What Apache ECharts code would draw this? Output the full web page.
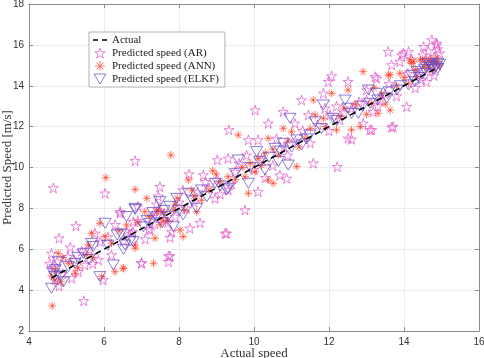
<!DOCTYPE html>
<html>
<head>
<meta charset="utf-8">
<script src="https://cdn.jsdelivr.net/npm/echarts@6/dist/echarts.min.js"></script>
<style>
  html, body { margin: 0; padding: 0; background: #fff; }
  #chart { width: 484px; height: 358px; }
</style>
</head>
<body>
<div id="chart"></div>
<script>
// values
const actualLine = [[4.6, 4.6], [14.9, 14.9]];

const arPoints = [
  [4.65, 9.0], [5.46, 3.48], [4.6, 5.8], [4.8, 6.54], [5.04, 5.64], [5.31, 4.9], [5.49, 5.23], [5.25, 7.14],
  [5.9, 6.37], [6.2, 5.72], [6.43, 7.76], [7.0, 5.31], [5.98, 4.5], [5.14, 4.59], [5.76, 6.78], [6.77, 6.86],
  [5.85, 5.48], [4.62, 5.1], [4.7, 4.5], [4.75, 5.4], [4.9, 4.8], [5.2, 5.5], [5.6, 6.0], [6.03, 8.74],
  [6.43, 7.84], [6.6, 6.9], [6.52, 6.4], [7.0, 5.34], [7.72, 5.67], [7.72, 5.39], [6.83, 10.33], [6.9, 7.4],
  [7.2, 7.0], [7.3, 7.6], [9.31, 10.45], [9.02, 10.37], [8.27, 9.68], [8.65, 9.63], [9.27, 6.78], [7.76, 5.67],
  [8.56, 7.3], [8.29, 7.03], [7.76, 6.58], [7.8, 6.86], [7.23, 6.94], [7.49, 9.06], [8.96, 8.49], [9.31, 8.9],
  [6.74, 6.78], [6.78, 7.35], [7.5, 7.9], [7.7, 7.3], [8.0, 8.3], [8.2, 8.0], [8.5, 8.8], [8.8, 9.0],
  [9.0, 9.4], [9.5, 9.8], [9.23, 6.78], [9.76, 7.92], [7.4, 8.2], [7.6, 7.5], [10.03, 12.81], [10.78, 12.73],
  [10.38, 12.16], [9.33, 11.84], [9.85, 11.35], [10.11, 11.35], [11.58, 10.21], [11.27, 13.3], [11.09, 12.16], [10.87, 9.47],
  [10.11, 8.82], [10.69, 9.63], [11.89, 12.9], [11.45, 12.57], [12.22, 10.04], [10.2, 10.4], [10.5, 10.1], [10.8, 11.0],
  [11.1, 11.3], [11.5, 11.2], [10.0, 9.9], [9.8, 10.6], [12.51, 11.43], [12.91, 12.16], [13.14, 11.84], [13.58, 15.67],
  [13.94, 15.5], [14.12, 15.67], [13.67, 15.02], [14.52, 15.91], [12.07, 14.48], [11.98, 14.2], [12.51, 14.2], [11.85, 13.63],
  [13.23, 14.44], [13.0, 13.79], [14.07, 12.98], [13.67, 11.97], [12.6, 11.38], [13.09, 11.84], [12.03, 12.57], [12.29, 12.33],
  [13.36, 13.3], [13.18, 12.73], [14.74, 16.24], [14.87, 15.99], [14.87, 16.08], [13.98, 15.59], [13.89, 15.18], [13.27, 14.36],
  [13.71, 12.0], [14.4, 14.6], [14.6, 15.2], [14.8, 15.4], [14.9, 15.0], [14.7, 14.7], [14.5, 15.5], [14.95, 15.6],
  [14.3, 13.9], [14.6, 14.2], [12.8, 13.2], [13.5, 13.6], [12.4, 12.7],
  [4.55, 5.3], [4.8, 4.2], [5.1, 6.1], [5.4, 5.9], [5.7, 5.3], [6.1, 6.6], [6.3, 7.2], [6.9, 8.1],
  [7.1, 6.5], [7.35, 7.25], [7.45, 8.6], [7.9, 7.6], [8.1, 8.9], [8.4, 8.3], [8.7, 9.3], [9.1, 8.7],
  [9.4, 9.2], [9.6, 10.2], [10.3, 9.5], [10.6, 11.4], [10.9, 10.6], [11.3, 11.8], [11.7, 12.1], [12.0, 11.8],
  [12.2, 13.0], [12.6, 12.9], [13.0, 13.3], [13.3, 13.0], [13.6, 14.1], [13.8, 13.5], [14.1, 14.6], [14.2, 15.3],
  [14.45, 14.3], [14.65, 15.7], [14.8, 14.5], [14.9, 15.8]
];

const annPoints = [
  [4.62, 3.23], [4.78, 5.8], [5.89, 7.27], [5.67, 6.78], [5.58, 6.21], [6.51, 5.07], [6.29, 4.9], [6.6, 7.19],
  [5.23, 4.82], [5.94, 4.66], [6.83, 6.21], [4.69, 4.5], [5.05, 5.31], [5.54, 5.72], [6.03, 6.62], [4.7, 5.0],
  [4.85, 4.4], [6.05, 9.5], [7.32, 5.31], [6.52, 5.07], [7.78, 10.61], [6.83, 8.93], [8.9, 9.84], [8.99, 9.68],
  [7.14, 8.49], [7.09, 7.84], [7.36, 6.54], [8.03, 6.94], [8.11, 6.62], [8.47, 7.84], [8.34, 8.9], [8.25, 9.39],
  [9.31, 9.55], [7.4, 7.84], [7.58, 7.43], [7.85, 7.92], [6.83, 6.05], [7.6, 7.8], [7.9, 8.2], [7.5, 7.2],
  [8.6, 8.4], [9.58, 11.59], [9.85, 8.74], [10.38, 11.43], [10.78, 11.92], [11.0, 11.75], [11.14, 10.05], [9.76, 9.55],
  [10.38, 9.39], [10.51, 9.23], [10.65, 10.61], [11.58, 13.3], [11.63, 12.57], [11.36, 11.43], [10.11, 10.45], [10.03, 9.8],
  [12.2, 11.84], [10.3, 10.7], [9.9, 10.2], [12.91, 14.69], [12.51, 13.79], [12.07, 13.63], [13.58, 14.53], [13.63, 12.81],
  [12.83, 12.0], [12.6, 11.84], [11.85, 12.41], [14.2, 15.1], [14.43, 15.26], [13.89, 14.61], [13.14, 13.14], [14.12, 14.12],
  [14.34, 14.44], [14.25, 15.18], [14.16, 15.26], [13.31, 12.65], [13.63, 14.53], [14.6, 15.0], [14.7, 15.3], [14.8, 15.1],
  [14.9, 15.2], [14.55, 14.9], [14.75, 14.8], [13.4, 13.6], [12.3, 12.5],
  [4.6, 4.7], [4.9, 5.6], [5.3, 5.1], [5.7, 5.6], [6.2, 6.3], [6.4, 6.9], [6.9, 7.3], [7.2, 7.6],
  [7.45, 7.9], [7.7, 7.4], [7.95, 8.5], [8.15, 7.9], [8.4, 8.6], [8.8, 8.9], [9.1, 9.3], [9.5, 9.4],
  [9.7, 10.0], [10.2, 10.1], [10.5, 10.9], [10.9, 11.3], [11.2, 11.0], [11.5, 11.9], [11.9, 12.0], [12.4, 12.9],
  [12.7, 13.1], [13.0, 12.6], [13.2, 13.9], [13.5, 13.1], [13.8, 14.0], [14.0, 14.4], [14.3, 14.8], [14.5, 15.3],
  [14.65, 15.2], [14.85, 15.35], [14.95, 15.0]
];

const elkfPoints = [
  [6.03, 7.27], [6.45, 6.75], [6.56, 6.21], [6.78, 6.37], [5.67, 6.29], [5.45, 5.8], [6.25, 5.23], [5.05, 5.15],
  [4.78, 5.39], [4.65, 4.82], [4.6, 4.09], [4.92, 4.41], [5.89, 4.66], [5.23, 5.31], [5.71, 6.13], [4.69, 4.67],
  [6.83, 8.0], [6.6, 7.6], [6.52, 6.0], [6.83, 7.95], [7.49, 8.33], [7.71, 7.6], [8.11, 7.68], [8.47, 8.0],
  [8.96, 9.23], [9.27, 8.9], [8.25, 8.74], [7.94, 8.49], [7.23, 7.27], [7.05, 7.1], [8.74, 8.57], [7.85, 7.1],
  [6.7, 6.4], [7.4, 7.6], [7.6, 7.9], [10.96, 12.41], [9.58, 10.37], [10.07, 10.78], [10.56, 10.94], [10.65, 10.29],
  [11.27, 11.1], [9.85, 9.23], [9.31, 8.98], [10.29, 9.88], [10.91, 10.12], [11.49, 11.59], [11.63, 12.24], [10.78, 11.18],
  [11.14, 11.35], [12.43, 13.3], [13.05, 13.79], [11.85, 13.06], [12.11, 12.41], [12.78, 12.65], [13.27, 13.63], [13.54, 13.39],
  [14.12, 14.04], [14.29, 14.2], [13.81, 13.79], [12.6, 12.65], [13.09, 13.14], [14.5, 14.6], [14.6, 14.9], [14.7, 15.0],
  [14.8, 14.8], [14.9, 15.1], [14.4, 14.4], [14.85, 14.95],
  [4.7, 5.0], [4.85, 4.7], [5.3, 5.6], [5.6, 5.5], [6.1, 6.2], [6.35, 6.7], [7.15, 7.4], [7.3, 7.8],
  [7.55, 7.3], [7.75, 8.1], [8.0, 7.9], [8.35, 8.4], [8.6, 8.9], [9.1, 9.1], [9.5, 9.7], [9.9, 10.0],
  [10.15, 10.3], [10.4, 10.5], [10.7, 10.8], [11.0, 11.0], [11.4, 11.4], [11.8, 11.9], [12.2, 12.3], [12.5, 12.9],
  [12.9, 13.0], [13.3, 13.3], [13.6, 13.7], [13.9, 14.0], [14.2, 14.5], [14.35, 14.7], [14.55, 14.8], [14.65, 15.1],
  [14.75, 14.9], [14.9, 14.85], [14.95, 15.05]
];

const xTicks = [4, 16, 2];
const yTicks = [2, 18, 2];

const STAR = 'path://M0,-1L0.225,-0.309L0.951,-0.309L0.363,0.118L0.588,0.809L0,0.382L-0.588,0.809L-0.363,0.118L-0.951,-0.309L-0.225,-0.309Z';
const ASTER = 'path://M0,-1L0,1M-1,0L1,0M-0.7,-0.7L0.7,0.7M-0.7,0.7L0.7,-0.7';
const TRI_DOWN = 'path://M-1,-0.85L1,-0.85L0,0.85Z';
const DASHES = 'path://M0,0h5v1.6h-5zM9,0h5v1.6h-5z';

const serif = '"Liberation Serif", "DejaVu Serif", serif';
const sans = '"Liberation Sans", Arial, sans-serif';
const axisCol = '#8c8c8c';
const arCol = '#e055c8';
const annCol = '#ff3a1e';
const elkfCol = '#5b4bc4';

const chart = echarts.init(document.getElementById('chart'));

const baseAxis = (range) => ({
  type: 'value',
  min: range[0],
  max: range[1],
  interval: range[2],
  axisLine: { show: true, lineStyle: { color: axisCol, width: 1 } },
  axisTick: { show: true, inside: true, length: 4, lineStyle: { color: axisCol } },
  splitLine: { show: false },
  axisLabel: { show: false },
});

chart.setOption({
  animation: false,
  grid: { left: 29, right: 5, top: 4, bottom: 27, containLabel: false, outerBoundsMode: 'none' },
  xAxis: [
    Object.assign(baseAxis(xTicks), {
      position: 'bottom',
      splitLine: { show: true, lineStyle: { color: '#ececec', width: 1 } },
      axisLabel: { show: true, color: '#333', fontFamily: sans, fontSize: 10, margin: 6 },
      name: 'Actual speed',
      nameLocation: 'middle',
      nameGap: 16,
      nameMoveOverlap: false,
      nameTextStyle: { color: '#333', fontFamily: serif, fontSize: 13, verticalAlign: 'top' },
    }),
    Object.assign(baseAxis(xTicks), { position: 'top' }),
  ],
  yAxis: [
    Object.assign(baseAxis(yTicks), {
      position: 'left',
      splitLine: { show: true, lineStyle: { color: '#ececec', width: 1 } },
      axisLabel: { show: true, color: '#333', fontFamily: sans, fontSize: 10, margin: 5 },
      name: 'Predicted Speed [m/s]',
      nameLocation: 'middle',
      nameGap: 15,
      nameMoveOverlap: false,
      nameTextStyle: { color: '#333', fontFamily: serif, fontSize: 13 },
    }),
    Object.assign(baseAxis(yTicks), { position: 'right' }),
  ],
  legend: {
    orient: 'vertical',
    left: 89,
    top: 32,
    padding: [2, 6, 2, 4],
    itemGap: 1,
    itemWidth: 14,
    itemHeight: 10,
    backgroundColor: '#fff',
    borderColor: '#a0a0a0',
    borderWidth: 0.8,
    textStyle: { fontFamily: serif, fontSize: 11, color: '#222', lineHeight: 12 },
    data: [
      { name: 'Actual', icon: DASHES, itemStyle: { color: '#000', borderWidth: 0 } },
      { name: 'Predicted speed (AR)', itemStyle: { color: 'rgba(0,0,0,0)', borderColor: arCol, borderWidth: 0.8 } },
      { name: 'Predicted speed (ANN)', itemStyle: { color: 'rgba(0,0,0,0)', borderColor: annCol, borderWidth: 0.8 } },
      { name: 'Predicted speed (ELKF)', itemStyle: { color: 'rgba(0,0,0,0)', borderColor: elkfCol, borderWidth: 0.8 } },
    ],
  },
  series: [
    {
      name: 'Predicted speed (AR)',
      type: 'scatter',
      data: arPoints,
      symbol: STAR,
      symbolSize: 10,
      itemStyle: { color: 'rgba(0,0,0,0)', borderColor: arCol, borderWidth: 0.8, opacity: 0.9 },
      z: 2,
    },
    {
      name: 'Predicted speed (ANN)',
      type: 'scatter',
      data: annPoints,
      symbol: ASTER,
      symbolSize: 8,
      itemStyle: { color: 'rgba(0,0,0,0)', borderColor: annCol, borderWidth: 0.8, opacity: 0.85 },
      z: 3,
    },
    {
      name: 'Predicted speed (ELKF)',
      type: 'scatter',
      data: elkfPoints,
      symbol: TRI_DOWN,
      symbolSize: [12, 10],
      itemStyle: { color: 'rgba(0,0,0,0)', borderColor: elkfCol, borderWidth: 0.8, opacity: 0.9 },
      z: 4,
    },
    {
      name: 'Actual',
      type: 'line',
      data: actualLine,
      symbol: 'none',
      lineStyle: { color: '#000', width: 1.6, type: [6, 4] },
      z: 5,
    },
  ],
});
</script>
</body>
</html>
